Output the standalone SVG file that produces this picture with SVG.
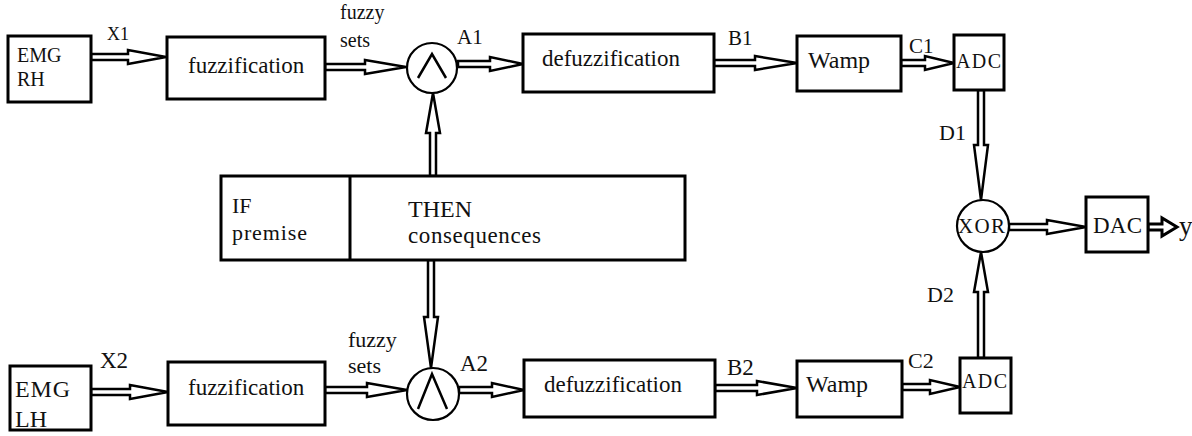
<svg xmlns="http://www.w3.org/2000/svg" width="1192" height="436" viewBox="0 0 1192 436" font-family="'Liberation Serif', 'DejaVu Serif', serif">
<style>
.box{fill:#fff;stroke:#000;stroke-width:3}
.circ{fill:#fff;stroke:#000;stroke-width:2.2}
.wedge{fill:none;stroke:#000;stroke-width:2.5}
.arr{fill:#fff;stroke:#000;stroke-width:2.5;stroke-linejoin:miter}
text{font-family:'Liberation Serif','DejaVu Serif',serif;fill:#111}
.lbl{font-size:21px}
.big{font-size:23px}
.sm{font-size:20px}
</style>
<rect width="1192" height="436" fill="#fff"/>
<g id="connectors">
<polygon class="arr" points="91,54 128,54 128,50 166,57 128,64 128,60 91,60"/>
<polygon class="arr" points="325,64 365,64 365,60 406,67 365,74 365,70 325,70"/>
<polygon class="arr" points="458,61 490,61 490,57 523,64 490,71 490,67 458,67"/>
<polygon class="arr" points="714,60 755,60 755,56 797,63 755,70 755,66 714,66"/>
<polygon class="arr" points="901,60 925,60 925,56 954,63 925,70 925,66 901,66"/>
<polygon class="arr" points="430,176 430,133 426,133 433,93 440,133 436,133 436,176"/>
<polygon class="arr" points="428,260 428,317 424,317 431,368 438,317 434,317 434,260"/>
<polygon class="arr" points="978,90 978,145 974,145 981,200 988,145 984,145 984,90"/>
<polygon class="arr" points="978,358 978,292 974,292 981,252 988,292 984,292 984,358"/>
<polygon class="arr" points="1009,224 1047,224 1047,220 1086,227 1047,234 1047,230 1009,230"/>
<polygon class="arr" style="stroke-width:3" points="1148,224 1162,224 1162,218 1177,227 1162,236 1162,230 1148,230"/>
<polygon class="arr" points="91,389 130,389 130,385 168,392 130,399 130,395 91,395"/>
<polygon class="arr" points="325,387 367,387 367,383 407,390 367,397 367,393 325,393"/>
<polygon class="arr" points="459,387 492,387 492,383 524,390 492,397 492,393 459,393"/>
<polygon class="arr" points="715,385 757,385 757,381 797,388 757,395 757,391 715,391"/>
<polygon class="arr" points="902,384 930,384 930,380 960,387 930,394 930,390 902,390"/>
</g>
<g id="labels">
<text x="107" y="40" style="font-size:18px">X1</text>
<text class="sm" x="340" y="19">fuzzy</text>
<text class="sm" x="340" y="47">sets</text>
<text class="lbl" x="457" y="44">A1</text>
<text class="lbl" x="728" y="45">B1</text>
<text class="lbl" x="909" y="53">C1</text>
<text class="lbl" x="939" y="140" style="font-size:22px">D1</text>
<text class="lbl" x="927" y="302" style="font-size:22px">D2</text>
<text class="lbl" x="100" y="368" style="font-size:23px">X2</text>
<text class="sm" x="348" y="347" style="font-size:22px">fuzzy</text>
<text class="sm" x="348" y="373" style="font-size:22px">sets</text>
<text class="lbl" x="460" y="371" style="font-size:23px">A2</text>
<text class="lbl" x="727" y="375" style="font-size:23px">B2</text>
<text class="lbl" x="908" y="368" style="font-size:22px">C2</text>
<text x="1179" y="235" style="font-size:27px">y</text>
</g>
<g id="emg-rh">
<rect class="box" x="8" y="36" width="83" height="66"/>
<text x="17" y="62" style="font-size:20px">EMG</text>
<text x="17" y="86" style="font-size:20px">RH</text>
</g>
<g id="fuzzification1">
<rect class="box" x="167" y="37" width="158" height="62"/>
<text class="big" x="188" y="73">fuzzification</text>
</g>
<g id="and1">
<circle class="circ" cx="432" cy="68" r="25"/>
<polyline class="wedge" points="418,78 432,54 446,78"/>
</g>
<g id="defuzzification1">
<rect class="box" x="523" y="34" width="191" height="58"/>
<text class="big" x="542" y="66">defuzzification</text>
</g>
<g id="wamp1">
<rect class="box" x="797" y="36" width="104" height="55"/>
<text x="808" y="68" style="font-size:24px">Wamp</text>
</g>
<g id="adc1">
<rect class="box" x="954" y="35" width="50" height="55"/>
<text x="956" y="68" style="font-size:20px" textLength="45">ADC</text>
</g>
<g id="rules">
<rect class="box" x="221" y="176" width="464" height="84"/>
<line x1="350" y1="176" x2="350" y2="260" stroke="#000" stroke-width="3"/>
<text x="232" y="213" style="font-size:22px">IF</text>
<text x="232" y="240" style="font-size:22px" textLength="75">premise</text>
<text x="408" y="217" style="font-size:24px">THEN</text>
<text x="408" y="243" style="font-size:23px" textLength="133">consequences</text>
</g>
<g id="xor">
<circle class="circ" cx="983" cy="226" r="26"/>
<text x="958" y="233" style="font-size:21px" textLength="47">XOR</text>
</g>
<g id="dac">
<rect class="box" x="1086" y="197" width="62" height="55"/>
<text x="1093" y="233" style="font-size:23px" textLength="49">DAC</text>
</g>
<g id="emg-lh">
<rect class="box" x="10" y="366" width="81" height="64"/>
<text x="15" y="397" style="font-size:24px" textLength="55">EMG</text>
<text x="15" y="427" style="font-size:24px">LH</text>
</g>
<g id="fuzzification2">
<rect class="box" x="168" y="362" width="157" height="63"/>
<text class="big" x="188" y="395">fuzzification</text>
</g>
<g id="and2">
<circle class="circ" cx="433" cy="394" r="26"/>
<polyline class="wedge" points="418,409 432,374 447,409"/>
</g>
<g id="defuzzification2">
<rect class="box" x="524" y="360" width="191" height="57"/>
<text class="big" x="544" y="392">defuzzification</text>
</g>
<g id="wamp2">
<rect class="box" x="797" y="361" width="105" height="56"/>
<text x="806" y="392" style="font-size:24px">Wamp</text>
</g>
<g id="adc2">
<rect class="box" x="960" y="358" width="51" height="55"/>
<text x="962" y="388" style="font-size:20px" textLength="45">ADC</text>
</g>
</svg>
